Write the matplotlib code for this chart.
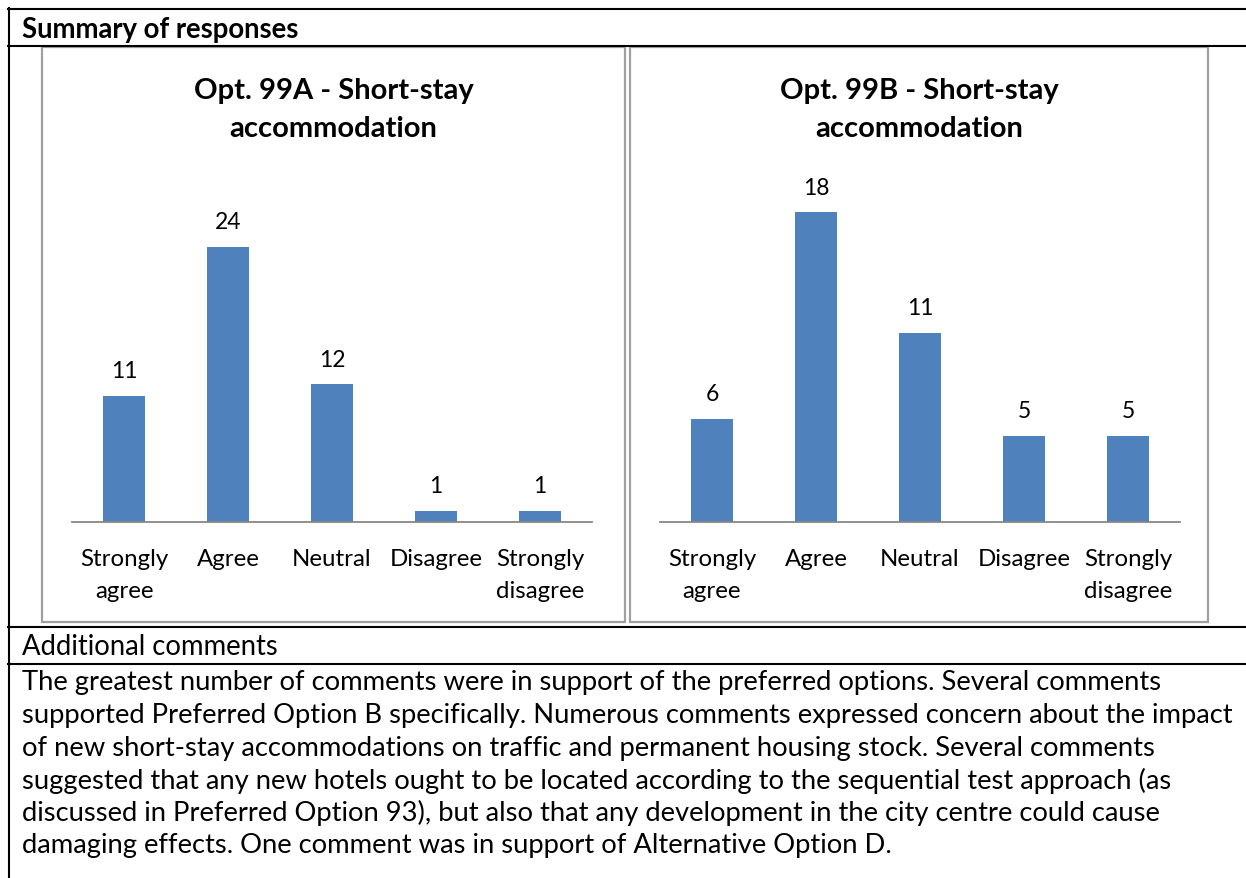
import matplotlib.pyplot as plt
from matplotlib.lines import Line2D
from matplotlib.patches import Rectangle

# survey counts for the two short-stay accommodation options
categories = ["Strongly\nagree", "Agree", "Neutral", "Disagree", "Strongly\ndisagree"]
counts_99a = [11, 24, 12, 1, 1]
counts_99b = [6, 18, 11, 5, 5]
title_99a = "Opt. 99A - Short-stay\naccommodation"
title_99b = "Opt. 99B - Short-stay\naccommodation"

comment_lines = [
    "The greatest number of comments were in support of the preferred options. Several comments",
    "supported Preferred Option B specifically. Numerous comments expressed concern about the impact",
    "of new short-stay accommodations on traffic and permanent housing stock. Several comments",
    "suggested that any new hotels ought to be located according to the sequential test approach (as",
    "discussed in Preferred Option 93), but also that any development in the city centre could cause",
    "damaging effects. One comment was in support of Alternative Option D.",
]

W, H = 1246, 879
BAR = "#4F81BD"
FRAME = "#A0A0A0"
FONT = "Lato"
plt.rcParams["font.family"] = [FONT, "DejaVu Sans"]

fig = plt.figure(figsize=(W / 100, H / 100), dpi=100)


def fx(x):
    return x / W


def fy(y):
    return 1 - y / H


def hline(y, x0=8, x1=W):
    fig.add_artist(Line2D([fx(x0), fx(x1)], [fy(y), fy(y)], color="black", lw=1.5))


# table grid
for y in (10, 47, 628, 665):
    hline(y)
fig.add_artist(Line2D([fx(9), fx(9)], [fy(9), fy(H)], color="black", lw=1.5))

fig.text(fx(22), fy(30), "Summary of responses", fontsize=19.8, fontweight="bold", va="center")
fig.text(fx(22), fy(647), "Additional comments", fontsize=19.8, va="center")
for i, line in enumerate(comment_lines):
    fig.text(fx(22), fy(683 + i * 32.6), line, fontsize=19.7, va="center")


def chart(frame_x0, frame_x1, ax_x0, ax_x1, ymax, counts, title):
    fig.add_artist(Rectangle((fx(frame_x0), fy(623)), fx(frame_x1 - frame_x0), (623 - 48) / H,
                             fill=False, edgecolor=FRAME, lw=1.6))
    ax = fig.add_axes([fx(ax_x0), fy(523), fx(ax_x1 - ax_x0), (523 - 179) / H])
    bars = ax.bar(range(len(categories)), counts, width=0.4, color=BAR)
    ax.bar_label(bars, padding=10.5, fontsize=16.5)
    ax.set_xlim(-0.5, len(categories) - 0.5)
    ax.set_ylim(0, ymax)
    ax.set_yticks([])
    ax.set_xticks(range(len(categories)))
    ax.set_xticklabels(categories, fontsize=17.3, linespacing=1.64)
    ax.tick_params(axis="x", length=0, pad=18.5)
    for side in ("top", "left", "right"):
        ax.spines[side].set_visible(False)
    ax.spines["bottom"].set_color("#888888")
    ax.spines["bottom"].set_linewidth(1.3)
    fig.text(fx((frame_x0 + frame_x1) / 2), fy(110), title, ha="center", va="center",
             fontsize=21, fontweight="bold", linespacing=1.55)


chart(42, 625, 72, 592, 30, counts_99a, title_99a)
chart(630, 1208, 660, 1180, 20, counts_99b, title_99b)

fig.savefig("out.png", dpi=100)
